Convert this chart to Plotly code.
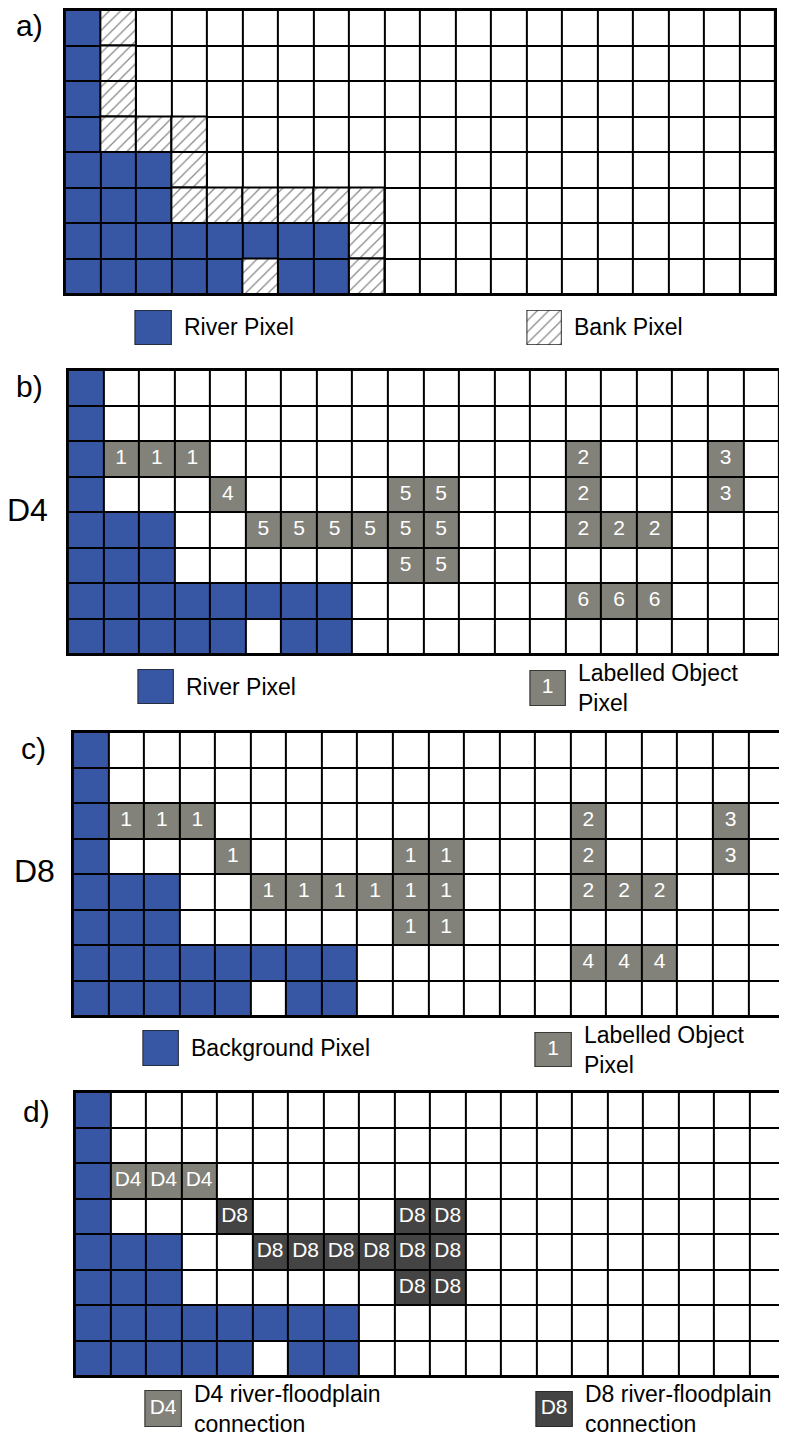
import plotly.graph_objects as go

W, H = 787, 1441
OFF = 8                      # browser default body margin
WF, HF = W - OFF, H - OFF    # figure size
N_ROWS, N_COLS = 8, 20

# ---------------- data ----------------
# River (blue) pixels: columns per row (row 0 = top)
river_cols_by_row = [[0], [0], [0], [0], [0, 1, 2], [0, 1, 2],
                     [0, 1, 2, 3, 4, 5, 6, 7], [0, 1, 2, 3, 4, 6, 7]]
# Bank (hatched) pixels, panel a
bank_cols_by_row = [[1], [1], [1], [1, 2, 3], [3], [3, 4, 5, 6, 7, 8], [8], [5, 8]]

# Labelled objects, D4 connectivity (panel b)
d4_rows = [2, 2, 2, 3, 3, 3, 4, 4, 4, 4, 4, 4, 5, 5, 2, 3, 4, 4, 4, 2, 3, 6, 6, 6]
d4_cols = [1, 2, 3, 4, 9, 10, 5, 6, 7, 8, 9, 10, 9, 10, 14, 14, 14, 15, 16, 18, 18, 14, 15, 16]
d4_labels = ["1", "1", "1", "4", "5", "5", "5", "5", "5", "5", "5", "5", "5", "5",
             "2", "2", "2", "2", "2", "3", "3", "6", "6", "6"]

# Labelled objects, D8 connectivity (panel c)
d8_rows = d4_rows
d8_cols = d4_cols
d8_labels = ["1", "1", "1", "1", "1", "1", "1", "1", "1", "1", "1", "1", "1", "1",
             "2", "2", "2", "2", "2", "3", "3", "4", "4", "4"]

# River-floodplain connections (panel d)
conn_rows = [2, 2, 2, 3, 3, 3, 4, 4, 4, 4, 4, 4, 5, 5]
conn_cols = [1, 2, 3, 4, 9, 10, 5, 6, 7, 8, 9, 10, 9, 10]
conn_labels = ["D4", "D4", "D4", "D8", "D8", "D8", "D8", "D8", "D8", "D8", "D8", "D8", "D8", "D8"]

panel_letters = ["a)", "b)", "c)", "d)"]
side_labels = ["", "D4", "D8", ""]
legend_texts = [("River Pixel", "Bank Pixel"),
                ("River Pixel", "Labelled Object<br>Pixel"),
                ("Background Pixel", "Labelled Object<br>Pixel"),
                ("D4 river-floodplain<br>connection", "D8 river-floodplain<br>connection")]

# ---------------- style ----------------
BLUE = "#3757a5"
GRAY = "#82827a"
DARK = "#444444"
FONT = "Liberation Sans, Arial, sans-serif"

# pixel boxes in the page (left, right, top, bottom)
grid_boxes = [(65, 777, 10, 294), (68, 781, 370, 654), (73, 786, 732, 1016), (75, 787, 1092, 1376)]
swatch_boxes = [[(135, 172, 310, 345), (528, 563, 310, 345)],
                [(138, 174, 669, 704), (531, 567, 670, 706)],
                [(143, 179, 1030, 1066), (536, 573, 1032, 1067)],
                [(145, 182, 1390, 1427), (537, 574, 1391, 1427)]]
letter_pos = [(30, 25), (30, 387), (34, 749), (37, 1111)]
side_pos = [(0, 0), (28, 510), (35, 871), (0, 0)]


def fx(px):
    return min(1.0, max(0.0, (px - OFF) / WF))


def fy(py):
    return min(1.0, max(0.0, 1 - (py - OFF) / HF))


COLOR_CODE = {"white": 0, "blue": 1, "gray": 2, "dark": 3}
colorscale = [[0, "white"], [0.16, "white"], [0.17, BLUE], [0.49, BLUE],
              [0.51, GRAY], [0.82, GRAY], [0.84, DARK], [1, DARK]]


def build_matrix(obj_rows, obj_cols, obj_labels, color_fn):
    z = [[0] * N_COLS for _ in range(N_ROWS)]
    for r, cols in enumerate(river_cols_by_row):
        for c in cols:
            z[r][c] = COLOR_CODE["blue"]
    for r, c, lab in zip(obj_rows, obj_cols, obj_labels):
        z[r][c] = COLOR_CODE[color_fn(lab)]
    return z


panel_objects = [([], [], []), (d4_rows, d4_cols, d4_labels),
                 (d8_rows, d8_cols, d8_labels), (conn_rows, conn_cols, conn_labels)]
panel_colorfn = [lambda l: "gray", lambda l: "gray", lambda l: "gray",
                 lambda l: "gray" if l == "D4" else "dark"]

HATCH = dict(shape="/", size=8, solidity=0.16, fgcolor="#111111", bgcolor="white")
CELL_FONT = dict(color="white", size=21, family=FONT)

fig = go.Figure()
layout = dict(
    width=WF, height=HF, margin=dict(l=0, r=0, t=0, b=0),
    paper_bgcolor="white", plot_bgcolor="black", showlegend=False,
    barmode="overlay", font=dict(family=FONT, color="black"),
    hovermode=False,
)

axis_common = dict(showticklabels=False, showgrid=False, zeroline=False, ticks="",
                   showline=True, mirror=True, linecolor="black", linewidth=2, fixedrange=True)

ax = 1
annotations = []
for p in range(4):
    L, R, T, B = grid_boxes[p]
    xa = "x" if ax == 1 else f"x{ax}"
    ya = "y" if ax == 1 else f"y{ax}"
    layout["xaxis" if ax == 1 else f"xaxis{ax}"] = dict(axis_common, domain=[fx(L), fx(R)],
                                                       range=[-0.5, N_COLS - 0.5], anchor=ya)
    layout["yaxis" if ax == 1 else f"yaxis{ax}"] = dict(axis_common, domain=[fy(B), fy(T)],
                                                       range=[N_ROWS - 0.5, -0.5], anchor=xa)
    rows, cols, labs = panel_objects[p]
    z = build_matrix(rows, cols, labs, panel_colorfn[p])
    fig.add_trace(go.Heatmap(z=z, colorscale=colorscale, zmin=0, zmax=3, showscale=False,
                             xgap=2, ygap=2, xaxis=xa, yaxis=ya, hoverinfo="skip"))
    if labs:
        fig.add_trace(go.Scatter(x=cols, y=rows, text=labs, mode="text",
                                 textposition="middle center", textfont=CELL_FONT,
                                 xaxis=xa, yaxis=ya, hoverinfo="skip"))
    if p == 0:
        bx, bb = [], []
        for r, cs in enumerate(bank_cols_by_row):
            for c in cs:
                bx.append(c)
                bb.append(r - 0.5)
        fig.add_trace(go.Bar(x=bx, y=[1] * len(bx), base=bb, width=1,
                             marker=dict(color="white",
                                         line=dict(color="black", width=2),
                                         pattern=HATCH),
                             xaxis=xa, yaxis=ya, hoverinfo="skip"))
    ax += 1

    # panel letter & side label
    lx, ly = letter_pos[p]
    annotations.append(dict(text=panel_letters[p], x=fx(lx), y=fy(ly), xref="paper", yref="paper",
                            showarrow=False, xanchor="center", yanchor="middle",
                            font=dict(size=30, family=FONT)))
    if side_labels[p]:
        sx, sy = side_pos[p]
        annotations.append(dict(text=side_labels[p], x=fx(sx), y=fy(sy), xref="paper", yref="paper",
                                showarrow=False, xanchor="center", yanchor="middle",
                                font=dict(size=32, family=FONT)))

# legend swatches
swatch_styles = [
    [("blue", ""), ("hatch", "")],
    [("blue", ""), ("gray", "1")],
    [("blue", ""), ("gray", "1")],
    [("gray", "D4"), ("dark", "D8")],
]
fill_of = {"blue": BLUE, "gray": GRAY, "dark": DARK, "hatch": "white"}
for p in range(4):
    for k in range(2):
        L, R, T, B = swatch_boxes[p][k]
        kind, lab = swatch_styles[p][k]
        xa, ya = f"x{ax}", f"y{ax}"
        layout[f"xaxis{ax}"] = dict(axis_common, domain=[fx(L), fx(R)], range=[-0.5, 0.5],
                                    anchor=ya, showline=False)
        layout[f"yaxis{ax}"] = dict(axis_common, domain=[fy(B), fy(T)], range=[0, 1],
                                    anchor=xa, showline=False)
        marker = dict(color=fill_of[kind], line=dict(color="#222222", width=1.5))
        if kind == "hatch":
            marker["pattern"] = HATCH
        fig.add_trace(go.Bar(x=[0], y=[1], base=[0], width=1, marker=marker,
                             cliponaxis=False, xaxis=xa, yaxis=ya, hoverinfo="skip"))
        if lab:
            fig.add_trace(go.Scatter(x=[0], y=[0.5], text=[lab], mode="text",
                                     textposition="middle center", textfont=CELL_FONT,
                                     cliponaxis=False, xaxis=xa, yaxis=ya, hoverinfo="skip"))
        # legend text
        annotations.append(dict(text=legend_texts[p][k], x=fx(R + 10), y=fy((T + B) / 2),
                                xref="paper", yref="paper", showarrow=False,
                                xanchor="left", yanchor="middle", align="left",
                                font=dict(size=23, family=FONT)))
        ax += 1

layout["annotations"] = annotations
fig.update_layout(**layout)
fig.write_html("out.html")
